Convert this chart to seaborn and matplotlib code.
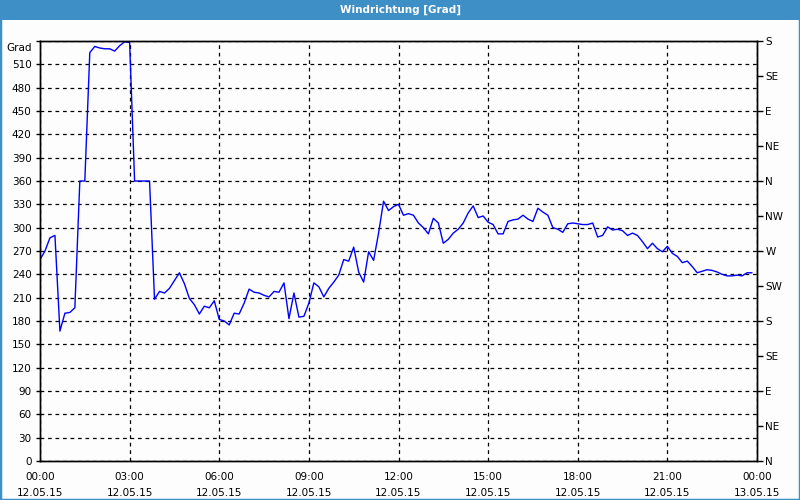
import matplotlib
matplotlib.use("Agg")
import matplotlib.pyplot as plt
import matplotlib.dates as mdates
from matplotlib.patches import Rectangle
from matplotlib.transforms import ScaledTranslation
import seaborn as sns
import pandas as pd

# ---- data (10-minute samples, 12.05.15) ----
start_time = "2015-05-12 00:00"
sample_freq = "10min"
wind_dir = [
    259, 270, 287, 290, 167, 190, 191, 197, 360, 360,
    525, 533, 531, 530, 530, 527, 534, 539, 538, 360,
    360, 360, 360, 208, 218, 216, 222, 232, 242, 228,
    209, 201, 189, 199, 197, 206, 182, 180, 175, 190,
    189, 203, 221, 217, 216, 213, 211, 218, 217, 229,
    183, 216, 185, 186, 203, 229, 224, 211, 222, 230,
    239, 259, 257, 275, 243, 230, 269, 258, 293, 334,
    322, 327, 330, 316, 318, 316, 306, 300, 292, 312,
    306, 280, 285, 293, 298, 306, 319, 328, 313, 315,
    307, 304, 292, 292, 308, 310, 311, 316, 311, 308,
    325, 320, 316, 300, 298, 294, 305, 306, 305, 304,
    304, 306, 288, 290, 301, 297, 298, 296, 290, 293,
    290, 282, 273, 280, 273, 269, 276, 267, 263, 255,
    257, 250, 242, 244, 246, 245, 243, 240, 238, 238,
    239, 238, 242, 242,
]
title = "Windrichtung [Grad]"
left_ticks = list(range(0, 541, 30))
left_labels = [str(v) for v in range(0, 511, 30)] + ["Grad"]
right_ticks = list(range(0, 541, 45))
right_labels = ["N", "NE", "E", "SE", "S", "SW", "W", "NW",
                "N", "NE", "E", "SE", "S"]
x_start = "2015-05-12 00:00"
x_end = "2015-05-13 00:00"

times = pd.date_range(start_time, periods=len(wind_dir), freq=sample_freq)
df = pd.DataFrame({"time": times, "dir": wind_dir})

# ---- style ----
sns.set_style("white")
plt.rcParams["font.family"] = ["DejaVu Sans"]
plt.rcParams["font.size"] = 7.5
plt.rcParams["text.color"] = "black"
plt.rcParams["xtick.color"] = "black"
plt.rcParams["ytick.color"] = "black"
plt.rcParams["xtick.labelcolor"] = "black"
plt.rcParams["ytick.labelcolor"] = "black"

BG = "#fcfdfc"
BAR = "#3d8fc6"

fig = plt.figure(figsize=(8, 5), dpi=100, facecolor=BG)
ax = fig.add_axes([40 / 800, 1 - 461 / 500, 717 / 800, 420 / 500])
ax.set_facecolor(BG)

sns.lineplot(data=df, x="time", y="dir", ax=ax, color="#0000ff",
             linewidth=1.0)

ax.set_xlim(pd.Timestamp(x_start), pd.Timestamp(x_end))
ax.set_ylim(0, 540)
ax.set_xlabel("")
ax.set_ylabel("")

ax.xaxis.set_major_locator(mdates.HourLocator(byhour=range(0, 24, 3)))
ax.xaxis.set_minor_locator(mdates.HourLocator())
ax.xaxis.set_major_formatter(mdates.DateFormatter("%H:%M\n%d.%m.%y"))
ax.set_yticks(left_ticks)
ax.set_yticklabels(left_labels)

ax.tick_params(axis="x", which="both", direction="out", length=3,
               width=1, color="black", labelcolor="black", labelsize=7.5,
               pad=5)
ax.tick_params(axis="y", which="both", direction="out", length=3,
               width=1, color="black", labelcolor="black", labelsize=7.5,
               pad=3)
for lab in ax.get_xticklabels():
    lab.set_linespacing(1.75)
    lab.set_horizontalalignment("center")

# nudge the "Grad" unit label slightly below the top tick
grad_lab = ax.get_yticklabels()[-1]
grad_lab.set_transform(grad_lab.get_transform() +
                       ScaledTranslation(0, -4 / 72, fig.dpi_scale_trans))

ax.grid(True, which="major", color="black", linestyle=(0, (3, 3)),
        linewidth=0.9)
for s in ax.spines.values():
    s.set_color("black")
    s.set_linewidth(1)
    s.set_visible(True)

ax2 = ax.twinx()
ax2.set_ylim(0, 540)
ax2.set_yticks(right_ticks)
ax2.set_yticklabels(right_labels)
ax2.tick_params(axis="y", direction="out", length=4, width=1,
                color="black", labelcolor="black", labelsize=7.5, pad=2)
ax2.grid(False)
for s in ax2.spines.values():
    s.set_color("black")
    s.set_linewidth(1)

# ---- title bar and frame ----
fig.patches.append(Rectangle((0, 1 - 20 / 500), 1, 20 / 500,
                             transform=fig.transFigure, facecolor=BAR,
                             edgecolor="none", zorder=0))
fig.text(0.5, 1 - 10 / 500, title, ha="center", va="center",
         color="white", fontsize=7.5, fontweight="bold")
fig.patches.append(Rectangle((0, 0), 1, 1, transform=fig.transFigure,
                             facecolor="none", edgecolor=BAR,
                             linewidth=2.5, zorder=0))

fig.savefig("out.png", dpi=100, facecolor=BG)
